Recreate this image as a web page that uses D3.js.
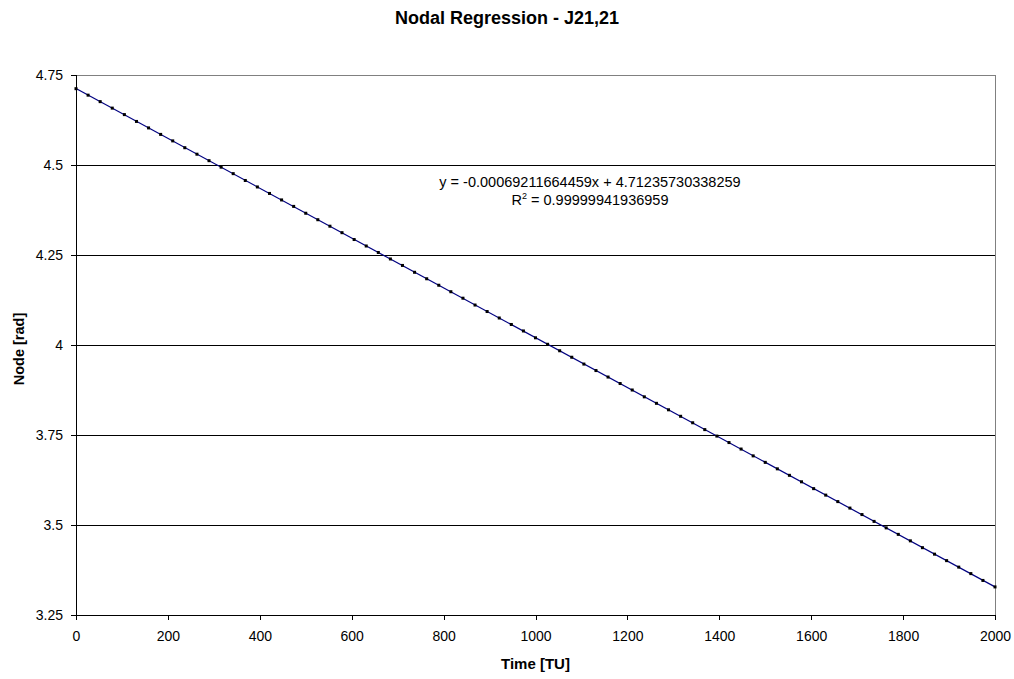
<!DOCTYPE html>
<html>
<head>
<meta charset="utf-8">
<script src="https://cdn.jsdelivr.net/npm/d3@7"></script>
<style>
  body { margin: 0; background: #fff; }
  svg { font-family: "Liberation Sans", Arial, sans-serif; }
</style>
</head>
<body>
<div id="chart"></div>
<script>
const title = "Nodal Regression - J21,21";
const xTicks = [0, 200, 400, 600, 800, 1000, 1200, 1400, 1600, 1800, 2000];
const yTicks = [3.25, 3.5, 3.75, 4, 4.25, 4.5, 4.75];
const yTickLabels = ["3.25", "3.5", "3.75", "4", "4.25", "4.5", "4.75"];

// sampled time [TU]
const times = [
  0, 26.3, 52.6, 78.9, 105.3, 131.6, 157.9, 184.2, 210.5, 236.8,
  263.2, 289.5, 315.8, 342.1, 368.4, 394.7, 421.1, 447.4, 473.7, 500,
  526.3, 552.6, 578.9, 605.3, 631.6, 657.9, 684.2, 710.5, 736.8, 763.2,
  789.5, 815.8, 842.1, 868.4, 894.7, 921.1, 947.4, 973.7, 1000, 1026.3,
  1052.6, 1078.9, 1105.3, 1131.6, 1157.9, 1184.2, 1210.5, 1236.8, 1263.2, 1289.5,
  1315.8, 1342.1, 1368.4, 1394.7, 1421.1, 1447.4, 1473.7, 1500, 1526.3, 1552.6,
  1578.9, 1605.3, 1631.6, 1657.9, 1684.2, 1710.5, 1736.8, 1763.2, 1789.5, 1815.8,
  1842.1, 1868.4, 1894.7, 1921.1, 1947.4, 1973.7, 2000
];
// node [rad]
const nodes = [
  4.712, 4.694, 4.676, 4.658, 4.640, 4.621, 4.603, 4.585, 4.567, 4.548,
  4.530, 4.512, 4.494, 4.476, 4.457, 4.439, 4.421, 4.403, 4.385, 4.366,
  4.348, 4.330, 4.312, 4.293, 4.275, 4.257, 4.239, 4.221, 4.202, 4.184,
  4.166, 4.148, 4.130, 4.111, 4.093, 4.075, 4.057, 4.039, 4.020, 4.002,
  3.984, 3.966, 3.947, 3.929, 3.911, 3.893, 3.875, 3.856, 3.838, 3.820,
  3.802, 3.784, 3.765, 3.747, 3.729, 3.711, 3.692, 3.674, 3.656, 3.638,
  3.620, 3.601, 3.583, 3.565, 3.547, 3.529, 3.510, 3.492, 3.474, 3.456,
  3.437, 3.419, 3.401, 3.383, 3.365, 3.346, 3.328
];

// linear trendline
const slope = -0.00069211664459;
const intercept = 4.71235730338259;
const eqText = "y = -0.00069211664459x + 4.71235730338259";
const r2Value = "0.99999941936959";

const width = 1014, height = 679;
const margin = { top: 75, right: 19, bottom: 64, left: 76 };
const w = width - margin.left - margin.right;
const h = height - margin.top - margin.bottom;

const svg = d3.select("#chart").append("svg")
  .attr("width", width)
  .attr("height", height);

const g = svg.append("g")
  .attr("transform", `translate(${margin.left},${margin.top})`);

const x = d3.scaleLinear().domain([0, 2000]).range([0, w]);
const y = d3.scaleLinear().domain([3.25, 4.75]).range([h, 0]);

// plot area border (grey)
g.append("rect")
  .attr("x", 0).attr("y", 0)
  .attr("width", w).attr("height", h)
  .attr("fill", "none")
  .attr("stroke", "#808080")
  .attr("stroke-width", 1)
  .attr("shape-rendering", "crispEdges");

// gridlines
g.append("g")
  .selectAll("line")
  .data(yTicks.filter((d) => d > 3.25 && d < 4.75))
  .enter()
  .append("line")
  .attr("x1", 0).attr("x2", w)
  .attr("y1", (d) => y(d)).attr("y2", (d) => y(d))
  .attr("stroke", "#000")
  .attr("shape-rendering", "crispEdges");

// axes
const xAxis = g.append("g")
  .attr("transform", `translate(0,${h})`)
  .call(d3.axisBottom(x).tickValues(xTicks).tickSize(5).tickPadding(11).tickFormat(d3.format("d")));

const yAxis = g.append("g")
  .call(d3.axisLeft(y).tickValues(yTicks).tickSize(5).tickPadding(8)
    .tickFormat((d, i) => yTickLabels[i]));

[xAxis, yAxis].forEach((a) => {
  a.select(".domain").attr("stroke", "#000").attr("shape-rendering", "crispEdges");
  a.selectAll(".tick line").attr("stroke", "#000").attr("shape-rendering", "crispEdges");
  a.selectAll("text")
    .attr("fill", "#000")
    .style("font-size", "14px")
    .style("font-family", '"Liberation Sans", Arial, sans-serif');
});

// trendline
g.append("line")
  .attr("x1", x(0)).attr("y1", y(intercept + slope * 0))
  .attr("x2", x(2000)).attr("y2", y(intercept + slope * 2000))
  .attr("stroke", "#000080")
  .attr("stroke-width", 1.2);

// data markers
g.selectAll(".pt")
  .data(times.map((t, i) => ({ t, v: nodes[i] })))
  .enter()
  .append("rect")
  .attr("class", "pt")
  .attr("x", (d) => x(d.t) - 1.5)
  .attr("y", (d) => y(d.v) - 1.5)
  .attr("width", 3)
  .attr("height", 3)
  .attr("fill", "#000");

// equation label
const eq = g.append("text")
  .attr("text-anchor", "middle")
  .attr("font-size", "14.5px")
  .attr("fill", "#000");
eq.append("tspan").attr("x", 514).attr("y", 112).text(eqText);
const r2 = eq.append("tspan").attr("x", 514).attr("y", 130);
r2.append("tspan").text("R");
r2.append("tspan").attr("dy", -6).attr("font-size", "9px").text("2");
r2.append("tspan").attr("dy", 6).text(" = " + r2Value);

// title
svg.append("text")
  .attr("x", 507).attr("y", 24)
  .attr("text-anchor", "middle")
  .attr("font-size", "18px")
  .attr("font-weight", "bold")
  .text(title);

// x-axis label
svg.append("text")
  .attr("x", margin.left + w / 2).attr("y", 669)
  .attr("text-anchor", "middle")
  .attr("font-size", "15px")
  .attr("font-weight", "bold")
  .text("Time [TU]");

// y-axis label
svg.append("text")
  .attr("transform", `translate(24,${margin.top + h / 2 + 4}) rotate(-90)`)
  .attr("text-anchor", "middle")
  .attr("font-size", "14.5px")
  .attr("font-weight", "bold")
  .text("Node [rad]");
</script>
</body>
</html>
